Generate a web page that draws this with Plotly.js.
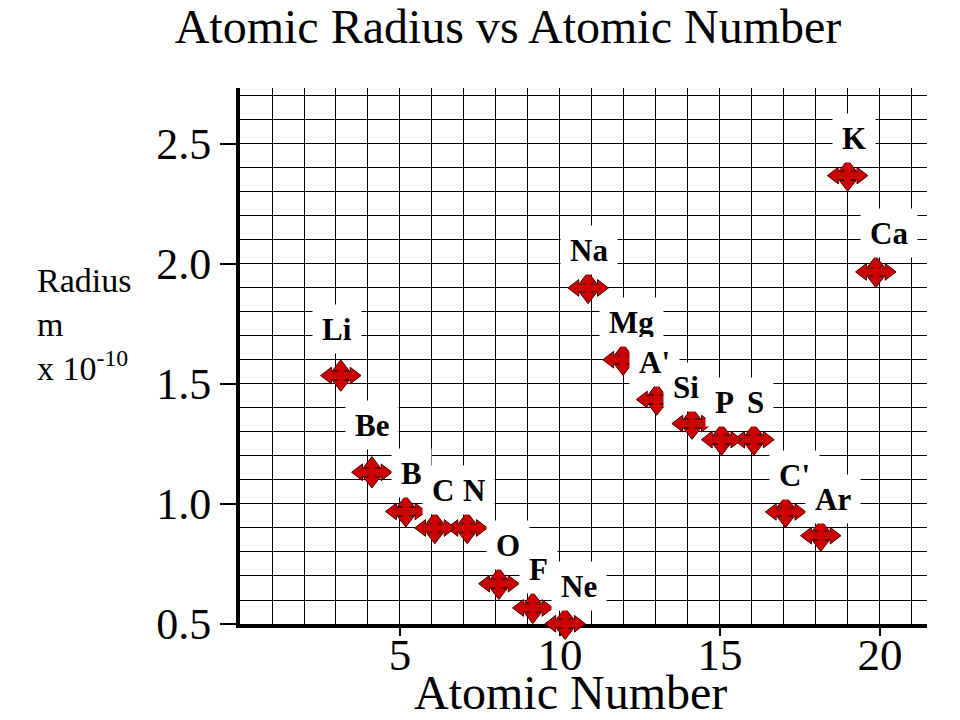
<!DOCTYPE html>
<html>
<head>
<meta charset="utf-8">
<script src="https://cdn.plot.ly/plotly-3.0.1.min.js"></script>
<style>
  html, body { margin: 0; padding: 0; background: #ffffff; }
  #chart { width: 960px; height: 720px; }
</style>
</head>
<body>
<div id="chart"></div>
<script>
// ---- data ----
const elements = ['Li', 'Be', 'B', 'C', 'N', 'O', 'F', 'Ne', 'Na', 'Mg', "A'", 'Si', 'P', 'S', "C'", 'Ar', 'K', 'Ca'];
const atomicNumber = [3.15, 4.12, 5.18, 6.09, 7.10, 8.09, 9.15, 10.16, 10.88, 11.97, 13.02, 14.13, 15.05, 16.06, 17.05, 18.15, 18.99, 19.87];
const radius = [1.535, 1.132, 0.969, 0.90, 0.90, 0.668, 0.567, 0.501, 1.90, 1.601, 1.435, 1.335, 1.268, 1.268, 0.967, 0.868, 2.368, 1.967];
const xTickValues = [5, 10, 15, 20];
const yTickValues = [0.5, 1.0, 1.5, 2.0, 2.5];

// ---- styling (not data) ----
const RED = '#cc0000';
const DARK = '#4a0000';
const SERIF = '"Liberation Serif", "Times New Roman", Times, serif';
// label offset in px from its marker, per element (dx right, dy up)
const labelOffset = {
  'Li': [-4, 47], 'Be': [0, 47], 'B': [6, 38], 'C': [8, 38], 'N': [7, 38], 'O': [9, 39],
  'F': [6, 39], 'Ne': [14, 38], 'Na': [1, 38], 'Mg': [8, 38], "A'": [-2, 38], 'Si': [-6, 37],
  'P': [3, 38], 'S': [2, 38], "C'": [9, 37], 'Ar': [12, 37], 'K': [6, 38], 'Ca': [13, 39]
};

function layer(marker) {
  return {
    type: 'scatter', mode: 'markers', x: atomicNumber, y: radius,
    cliponaxis: false, hoverinfo: 'skip', showlegend: false, marker: marker
  };
}

// four-way arrow marker built from library symbols
const traces = [];
// dark outline of the arms
traces.push(layer({symbol: 'line-ew', size: 17, color: DARK, line: {color: DARK, width: 9}}));
traces.push(layer({symbol: 'line-ns', size: 9.5, color: DARK, line: {color: DARK, width: 9}}));
// four arrowheads: [angle, standoff]
[[0, 8.5], [90, 13], [180, 8.5], [270, 13]].forEach(function (a) {
  traces.push(layer({symbol: 'triangle-down', size: 14.5, angle: a[0], standoff: a[1],
    color: RED, line: {color: DARK, width: 1}}));
});
// red arms on top
traces.push(layer({symbol: 'line-ew', size: 17, color: RED, line: {color: RED, width: 7}}));
traces.push(layer({symbol: 'line-ns', size: 9.5, color: RED, line: {color: RED, width: 7}}));

const annotations = elements.map(function (el, i) {
  const off = labelOffset[el];
  return {
    x: atomicNumber[i], y: radius[i], xref: 'x', yref: 'y',
    text: '<b>' + el + '</b>', showarrow: false,
    xanchor: 'center', yanchor: 'middle', xshift: off[0], yshift: off[1],
    font: {family: SERIF, size: 31, color: '#000'},
    bgcolor: '#ffffff', borderpad: 9, height: 30
  };
});

// axis titles drawn as free text
const plotL = 240, plotR = 927, plotT = 88, plotB = 624;
const pw = plotR - plotL, ph = plotB - plotT;
annotations.push({
  xref: 'paper', yref: 'paper', x: (35 - plotL) / pw, y: (plotB - 260) / ph,
  xanchor: 'left', yanchor: 'top', align: 'left', showarrow: false,
  text: 'Radius<br>m<br>x 10<sup>-10</sup>',
  font: {family: SERIF, size: 34, color: '#000'}
});
annotations.push({
  xref: 'paper', yref: 'paper', x: (570 - plotL) / pw, y: (plotB - 720) / ph,
  xanchor: 'center', yanchor: 'bottom', showarrow: false, borderpad: 0,
  text: 'Atomic Number',
  font: {family: SERIF, size: 48, color: '#000'}
});

const layout = {
  width: 960, height: 720,
  margin: {l: plotL, r: 960 - plotR, t: plotT, b: 720 - plotB, pad: 0},
  paper_bgcolor: '#ffffff', plot_bgcolor: '#ffffff',
  title: {
    text: 'Atomic Radius vs Atomic Number',
    font: {family: SERIF, size: 48, color: '#000'},
    x: 508 / 960, xanchor: 'center', xref: 'container',
    y: 1 - 9 / 720, yanchor: 'top', yref: 'container', pad: {t: 0, b: 0}
  },
  xaxis: {
    range: [0, 21.47], tickmode: 'array', tickvals: xTickValues,
    showline: true, linecolor: '#000', linewidth: 4,
    ticks: 'outside', ticklen: 8, tickwidth: 1.5, tickcolor: '#000',
    ticklabelstandoff: -20,
    showgrid: true, gridcolor: '#000', gridwidth: 1, zeroline: false,
    tickfont: {family: SERIF, size: 45, color: '#000'},
    minor: {tickmode: 'linear', tick0: 0, dtick: 1, showgrid: true, gridcolor: '#000', gridwidth: 1, ticks: ''},
    layer: 'below traces', fixedrange: true
  },
  yaxis: {
    range: [0.5, 2.733], tickmode: 'array', tickvals: yTickValues, tickformat: '.1f',
    showline: true, linecolor: '#000', linewidth: 4,
    ticks: 'outside', ticklen: 16, tickwidth: 1.5, tickcolor: '#000',
    showgrid: true, gridcolor: '#000', gridwidth: 1, zeroline: false,
    tickfont: {family: SERIF, size: 44, color: '#000'},
    minor: {tickmode: 'linear', tick0: 0.5, dtick: 0.1, showgrid: true, gridcolor: '#000', gridwidth: 1, ticks: ''},
    layer: 'below traces', fixedrange: true
  },
  annotations: annotations,
  showlegend: false
};

Plotly.newPlot('chart', traces, layout, {displayModeBar: false, staticPlot: true});
</script>
</body>
</html>
